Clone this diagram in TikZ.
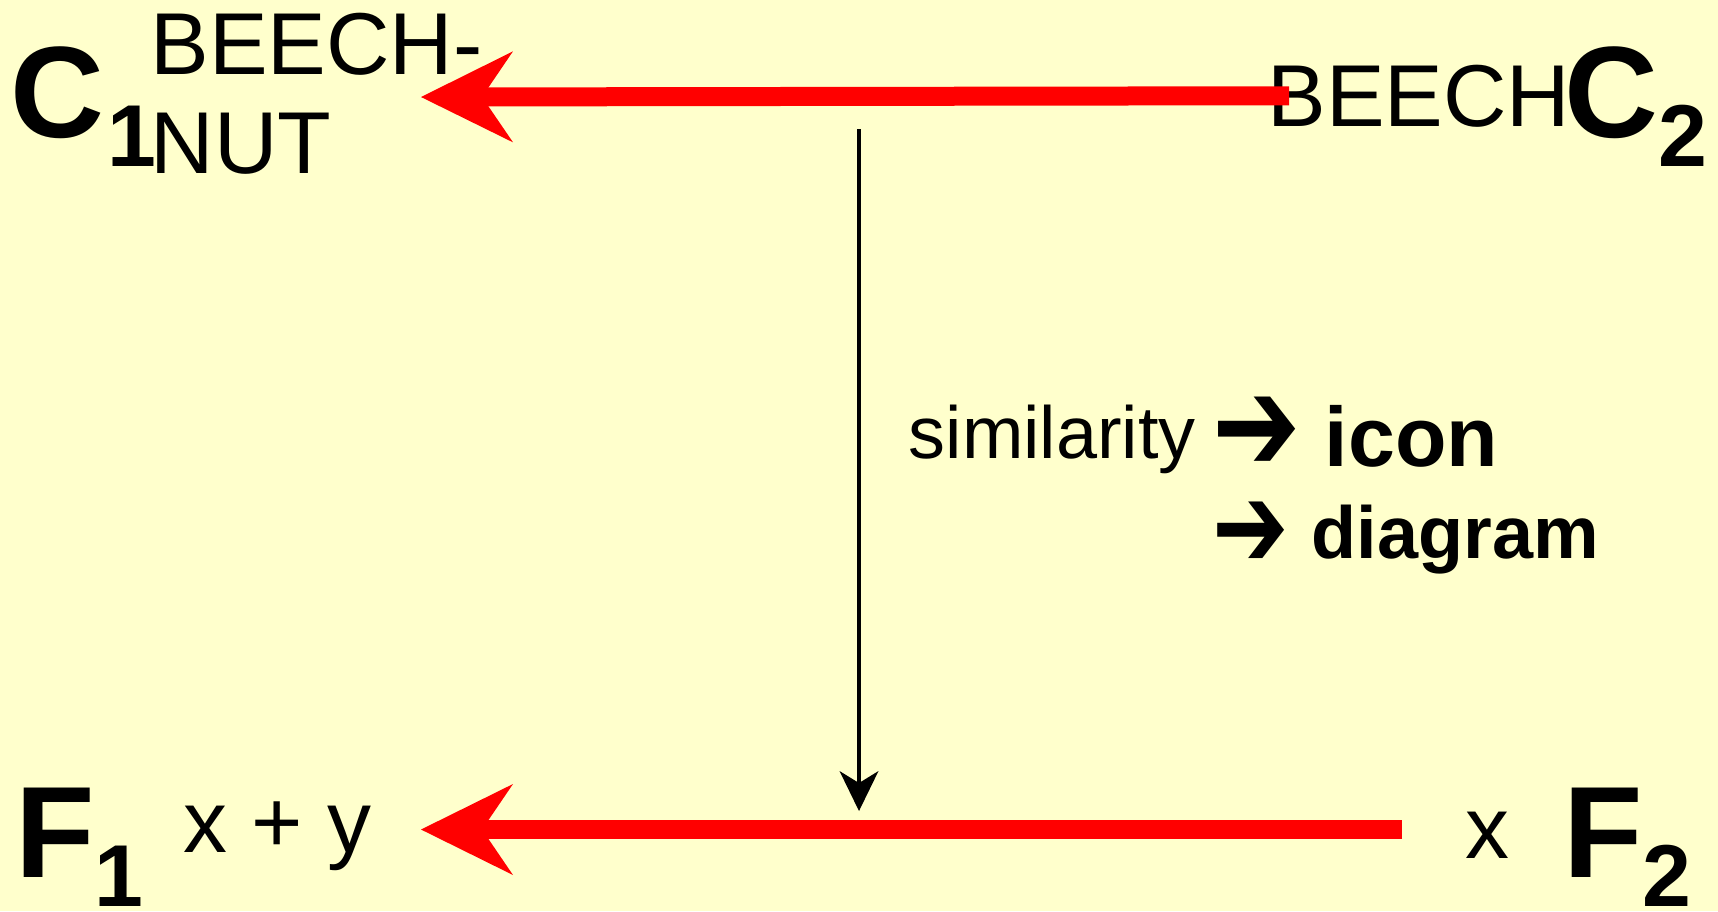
\documentclass[tikz,border=0pt]{standalone}
\usepackage{fontspec}
\setmainfont{Liberation Sans}
\newfontfamily\dingfont{DejaVu Sans}
\usetikzlibrary{arrows.meta}
\definecolor{paper}{RGB}{255,255,204}
\newcommand{\lowsub}[1]{\raisebox{-0.29cm}{\fontsize{25}{28}\selectfont #1}}

\begin{document}
\begin{tikzpicture}[
  bigsym/.style={font=\fontsize{37}{40}\selectfont\bfseries, inner sep=0pt, anchor=base west},
  word/.style={font=\fontsize{25}{28.4}\selectfont, inner sep=0pt, anchor=base west},
  ding/.style={font=\dingfont, inner sep=0pt, anchor=center},
  mapsto/.style={draw=red, line width=0.19cm, -{Stealth[length=0.92cm, width=0.91cm, inset=0.31cm, line width=0pt]}},
  link/.style={draw=black, line width=0.033cm, -{Stealth[length=0.40cm, width=0.39cm, inset=0.12cm, line width=0pt]}}
]
\useasboundingbox (0,0) rectangle (17.18,-9.11);
\fill[paper] (0,0) rectangle (17.18,-9.11);

% top row
\node[bigsym] (c1) at (0.10,-1.37) {C\kern0.03cm\lowsub{1}};
\node[word, anchor=north west, align=left] (beechnut) at (1.50,-0.12) {BEECH-\\NUT};
\node[word] (beech) at (12.67,-1.26) {BEECH};
\node[bigsym] (c2) at (15.64,-1.37) {C\lowsub{2}};

% bottom row
\node[bigsym] (f1) at (0.145,-8.77) {F\lowsub{1}};
\node[word] (xy) at (1.83,-8.52) {x + y};
\node[word] (xr) at (14.65,-8.58) {x};
\node[bigsym] (f2) at (15.625,-8.77) {F\lowsub{2}};

% middle labels
\node[word, font=\fontsize{21}{25}\selectfont] (sim) at (9.08,-4.58) {similarity};
\node[ding, font=\dingfont\fontsize{30}{34}\selectfont] (arr1) at (12.57,-4.34) {\scalebox{1}[1.28]{➔}};
\node[word, font=\fontsize{24}{28}\selectfont\bfseries] (icon) at (13.24,-4.66) {icon};
\node[ding, font=\dingfont\fontsize{26}{30}\selectfont] (arr2) at (12.51,-5.35) {\scalebox{1}[1.3]{➔}};
\node[word, font=\fontsize{21}{25}\selectfont\bfseries] (diagram) at (13.11,-5.58) {diagram};

% connectors
\coordinate (toptip) at (4.21,-0.97);
\coordinate (bottail) at (14.02,-8.295);
\coordinate (bottip) at (4.21,-8.295);
\coordinate (vtop) at (8.59,-1.29);
\coordinate (vtip) at (8.59,-8.11);
\draw[mapsto] ([xshift=0.22cm]beech.west) -- (toptip);
\draw[mapsto] (bottail) -- (bottip);
\draw[link] (vtop) -- (vtip);
\end{tikzpicture}
\end{document}
